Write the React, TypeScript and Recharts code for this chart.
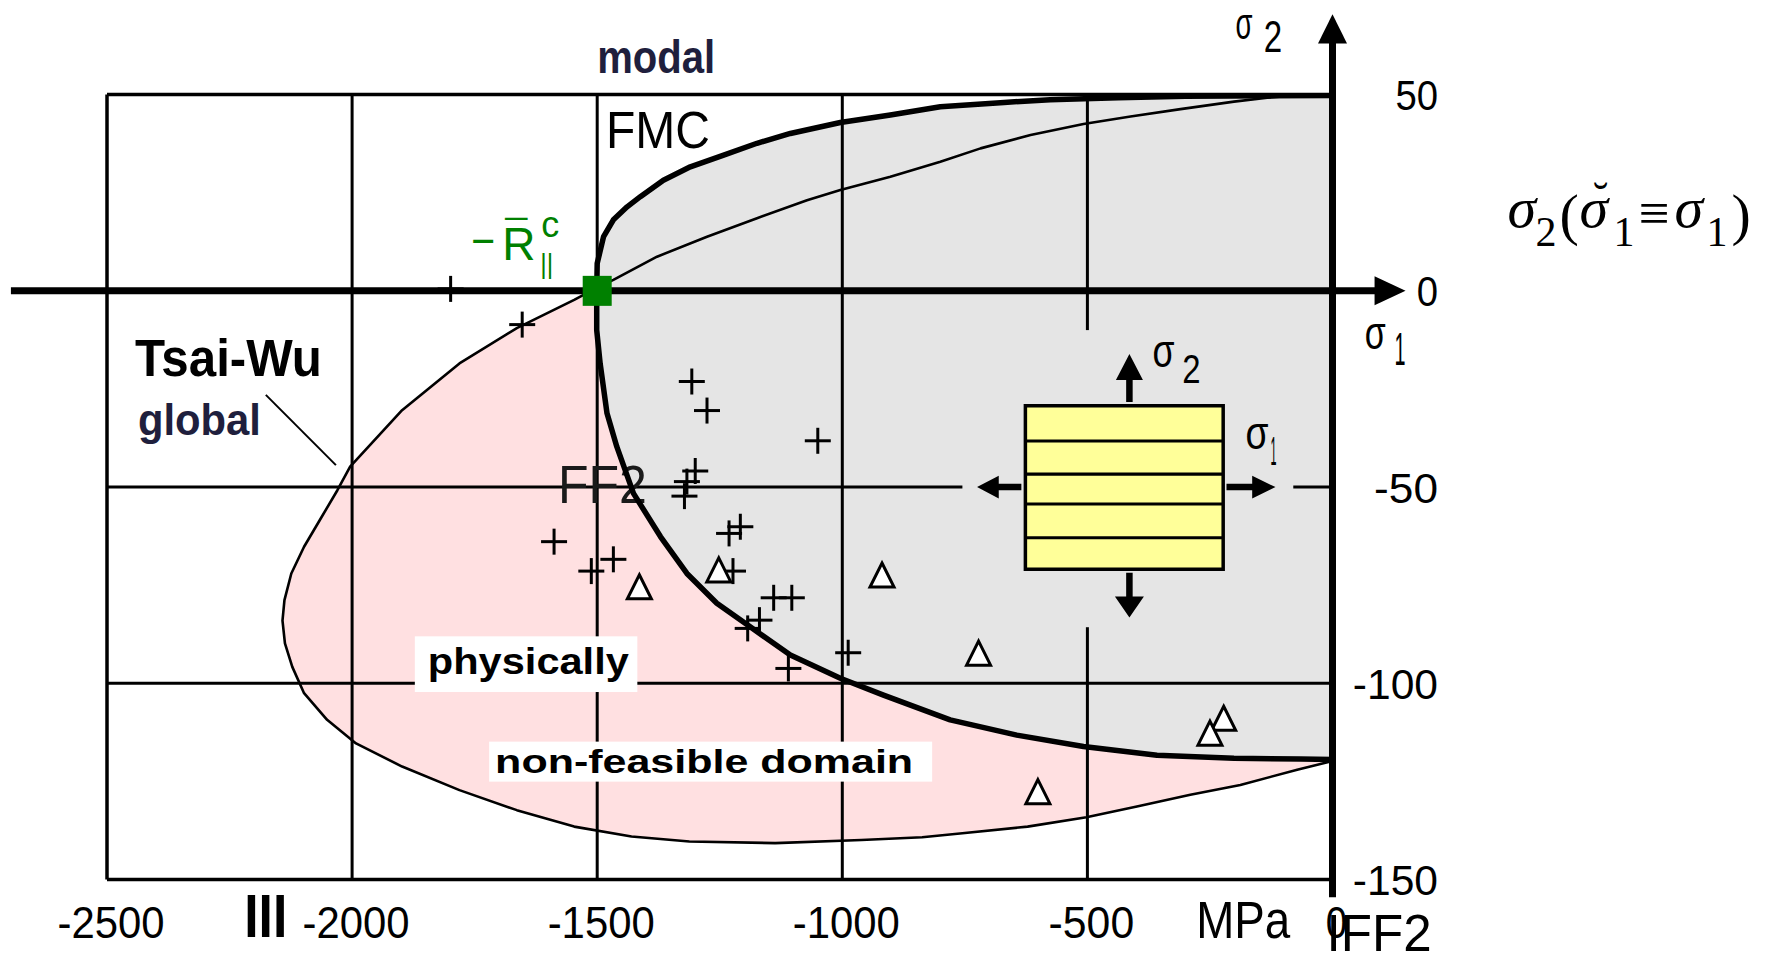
import React from "react";
import {
  ComposedChart,
  Scatter,
  XAxis,
  YAxis,
  ReferenceLine,
  ReferenceDot,
  ReferenceArea,
} from "recharts";

const SANS = "'Liberation Sans', Arial, sans-serif";
const SERIF = "'Liberation Serif', 'Times New Roman', serif";
const GREY = "#e5e5e5";
const PINK = "#ffe0e1";
const GREEN = "#008000";
const NAVY = "#1f1f3d";

type Pt = { x: number; y: number };

// axis ticks (MPa)
const xTicks = [-2500, -2000, -1500, -1000, -500, 0];
const yTicks = [-150, -100, -50, 0, 50];

// FMC failure curve, upper branch, read from right to left down to -R||c
const fmcUpper: Pt[] = [
  { x: 0, y: 49.8 }, { x: -300, y: 49.6 }, { x: -437, y: 49.2 }, { x: -576, y: 48.7 },
  { x: -670, y: 48.0 }, { x: -800, y: 46.9 }, { x: -902, y: 44.8 }, { x: -1004, y: 42.9 },
  { x: -1106, y: 40.1 }, { x: -1174, y: 37.6 }, { x: -1242, y: 34.6 }, { x: -1310, y: 31.6 },
  { x: -1365, y: 28.2 }, { x: -1412, y: 24.0 }, { x: -1439, y: 21.4 }, { x: -1467, y: 18.1 },
  { x: -1487, y: 13.8 }, { x: -1500, y: 7.0 }, { x: -1501, y: 0 },
];

// FMC failure curve, lower branch (IFF2 side), left to right
const fmcLower: Pt[] = [
  { x: -1501, y: 0 }, { x: -1501, y: -10 }, { x: -1494, y: -18.5 }, { x: -1480, y: -31.2 },
  { x: -1460, y: -39.7 }, { x: -1426, y: -51.6 }, { x: -1371, y: -62.6 }, { x: -1317, y: -72 },
  { x: -1256, y: -79.6 }, { x: -1188, y: -85.6 }, { x: -1106, y: -92.8 }, { x: -1004, y: -98.7 },
  { x: -916, y: -103 }, { x: -780, y: -109.3 }, { x: -644, y: -113.2 }, { x: -508, y: -116.1 },
  { x: -358, y: -118.3 }, { x: -201, y: -119.1 }, { x: -65, y: -119.3 }, { x: 0, y: -119.4 },
];

// Tsai-Wu global ellipse, from the top edge round to the sigma2 axis
const tsaiWu: Pt[] = [
  { x: -96, y: 49.6 }, { x: -133, y: 49.2 }, { x: -201, y: 48.2 }, { x: -310, y: 46.3 },
  { x: -412, y: 44.4 }, { x: -508, y: 42.5 }, { x: -616, y: 39.7 }, { x: -718, y: 36.3 },
  { x: -800, y: 32.9 }, { x: -902, y: 29.1 }, { x: -1004, y: 25.7 }, { x: -1072, y: 23.1 },
  { x: -1174, y: 18.5 }, { x: -1276, y: 13.8 }, { x: -1378, y: 8.7 }, { x: -1467, y: 2.8 },
  { x: -1500, y: 0.8 }, { x: -1547, y: -2.3 }, { x: -1664, y: -9.5 }, { x: -1781, y: -18.5 },
  { x: -1898, y: -30.4 }, { x: -2004, y: -44.8 }, { x: -2030, y: -50.8 }, { x: -2064, y: -58 },
  { x: -2098, y: -65.2 }, { x: -2124, y: -72 }, { x: -2138, y: -78.8 }, { x: -2142, y: -84 },
  { x: -2137, y: -89.8 }, { x: -2122, y: -95.8 }, { x: -2098, y: -102.5 }, { x: -2051, y: -109.3 },
  { x: -1992, y: -115.3 }, { x: -1898, y: -121.2 }, { x: -1781, y: -127.2 }, { x: -1664, y: -132.3 },
  { x: -1547, y: -136.5 }, { x: -1430, y: -139 }, { x: -1312, y: -140.3 }, { x: -1137, y: -140.7 },
  { x: -961, y: -139.9 }, { x: -837, y: -139.2 }, { x: -755, y: -138.2 }, { x: -622, y: -136.5 },
  { x: -502, y: -134.1 }, { x: -399, y: -131.4 }, { x: -290, y: -128.4 }, { x: -188, y: -125.9 },
  { x: -72, y: -122 }, { x: 0, y: -119.8 },
];

// compressive strength -R||c
const strength: Pt[] = [{ x: -1500, y: 0 }];

// test results
const plusTests: Pt[] = [
  { x: -1799, y: 0.5 }, { x: -1653, y: -8.6 }, { x: -1307, y: -23.1 }, { x: -1276, y: -30.5 },
  { x: -1050, y: -38.2 }, { x: -1300, y: -45.9 }, { x: -1317, y: -48.6 }, { x: -1322, y: -52.3 },
  { x: -1208, y: -60.1 }, { x: -1231, y: -61.8 }, { x: -1588, y: -63.9 }, { x: -1467, y: -68.4 },
  { x: -1512, y: -71.4 }, { x: -1223, y: -71.4 }, { x: -1140, y: -78.2 }, { x: -1103, y: -78.2 },
  { x: -1169, y: -83.9 }, { x: -1193, y: -86 }, { x: -988, y: -92.2 }, { x: -1110, y: -96.2 },
];
const triangleTests: Pt[] = [
  { x: -1414, y: -75.4 }, { x: -1252, y: -71.1 }, { x: -919, y: -72.4 }, { x: -722, y: -92.3 },
  { x: -601, y: -127.6 }, { x: -222, y: -108.9 }, { x: -250, y: -112.7 },
];

// polygons for the two shaded domains, built from the curves above
const fmcDomain: Pt[] = [...fmcUpper, ...fmcLower];
const tsaiStart = tsaiWu.findIndex((p) => p.x === -1500);
const pinkDomain: Pt[] = [...tsaiWu.slice(tsaiStart), ...[...fmcLower].reverse()];

type Note = { text: string; x: number; y: number; size: number; len?: number; bold?: boolean; color?: string };

const backNotes: Note[] = [{ text: "FF2", x: -1580, y: -54.1, size: 53, len: 89, color: "#1a1a1a" }];

const notes: Note[] = [
  { text: "modal", x: -1500, y: 55.5, size: 46, len: 118, bold: true, color: NAVY },
  { text: "FMC", x: -1482, y: 36.3, size: 51, len: 104 },
  { text: "Tsai-Wu", x: -2443, y: -21.7, size: 51, len: 187, bold: true },
  { text: "global", x: -2437, y: -36.7, size: 45, len: 123, bold: true, color: NAVY },
  { text: "III", x: -2220, y: -164.5, size: 62, len: 43, bold: true },
  { text: "MPa", x: -278, y: -164.9, size: 51, len: 94 },
  { text: "IFF2", x: -12, y: -168.2, size: 51, len: 105 },
  { text: "σ", x: -198, y: 64.2, size: 45, len: 17 },
  { text: "2", x: -140, y: 60.9, size: 44, len: 18.4 },
  { text: "σ", x: 66, y: -14.9, size: 46, len: 21 },
  { text: "1", x: 126.5, y: -18.9, size: 46, len: 11 },
  { text: "σ", x: -367, y: -19.5, size: 46, len: 22 },
  { text: "2", x: -306.7, y: -23.4, size: 40, len: 18.3 },
  { text: "σ", x: -177.6, y: -40.4, size: 46, len: 23 },
  { text: "1", x: -126.5, y: -44.4, size: 40, len: 6 },
];

type Boxed = Note & { padL: number; padR: number; padT: number; padB: number };
const boxedNotes: Boxed[] = [
  { text: "physically", x: -1845.5, y: -97.7, size: 36, len: 201, bold: true, padL: 13, padR: 8.5, padT: 38, padB: 17.7 },
  { text: "non-feasible domain", x: -1708.2, y: -122.9, size: 34, len: 418, bold: true, padL: 6, padR: 19, padT: 31.6, padB: 8.4 },
];

// laminate sketch stripes
const stripeYs = [-38.25, -46.7, -54.3, -62.9];

const noDot = () => <g />;

const PlusShape = (p: any) => (
  <g stroke="#000" strokeWidth={3}>
    <line x1={p.cx - 13} x2={p.cx + 13} y1={p.cy} y2={p.cy} />
    <line x1={p.cx} x2={p.cx} y1={p.cy - 13} y2={p.cy + 13} />
  </g>
);

const TriangleShape = (p: any) => (
  <path
    d={`M${p.cx},${p.cy - 12} L${p.cx + 12},${p.cy + 12} L${p.cx - 12},${p.cy + 12} Z`}
    fill="#fff"
    stroke="#000"
    strokeWidth={3}
    strokeLinejoin="miter"
  />
);

const SquareShape = (p: any) => (
  <rect x={p.cx - 14.5} y={p.cy - 15} width={29} height={30} fill={GREEN} />
);

const XTick = (p: any) => {
  const s = String(p.payload.value);
  return (
    <text x={p.x + 4} y={p.y + 58.4} textAnchor="middle" fontFamily={SANS} fontSize={44}
      textLength={s.length * 21.4} lengthAdjust="spacingAndGlyphs" fill="#000">
      {s}
    </text>
  );
};

const YTick = (p: any) => {
  const s = String(p.payload.value);
  return (
    <text x={p.x + 105.5} y={p.y + 15.5} textAnchor="end" fontFamily={SANS} fontSize={43}
      textLength={s.length * 21.3} lengthAdjust="spacingAndGlyphs" fill="#000">
      {s}
    </text>
  );
};

function noteDot(n: Note, key: string, z: number) {
  return (
    <ReferenceDot
      key={key}
      x={n.x}
      y={n.y}
      r={0}
      ifOverflow="visible"
      zIndex={z}
      shape={(p: any) => (
        <text x={p.cx} y={p.cy} fontFamily={SANS} fontSize={n.size} fontWeight={n.bold ? 700 : 400}
          fill={n.color ?? "#000"} textLength={n.len} lengthAdjust="spacingAndGlyphs">
          {n.text}
        </text>
      )}
    />
  );
}

function boxedDot(n: Boxed, key: string, z: number) {
  return (
    <ReferenceDot
      key={key}
      x={n.x}
      y={n.y}
      r={0}
      ifOverflow="visible"
      zIndex={z}
      shape={(p: any) => (
        <g>
          <rect x={p.cx - n.padL} y={p.cy - n.padT} width={n.padL + (n.len ?? 0) + n.padR}
            height={n.padT + n.padB} fill="#fff" />
          <text x={p.cx} y={p.cy} fontFamily={SANS} fontSize={n.size} fontWeight={700}
            fill="#000" textLength={n.len} lengthAdjust="spacingAndGlyphs">
            {n.text}
          </text>
        </g>
      )}
    />
  );
}

// arrow drawn with its tip at the dot, pointing in direction dir
function arrowShape(dir: "up" | "down" | "left" | "right", len: number, head: number, half: number, shaft: number) {
  const rot = { right: 0, down: 90, left: 180, up: 270 }[dir];
  const s = shaft / 2;
  const pts = [[0, 0], [-head, -half], [-head, -s], [-len, -s], [-len, s], [-head, s], [-head, half]];
  return (p: any) => (
    <polygon
      points={pts.map(([a, b]) => `${a},${b}`).join(" ")}
      transform={`translate(${p.cx},${p.cy}) rotate(${rot})`}
      fill="#000"
    />
  );
}

const StrengthLabel = (p: any) => {
  const { cx, cy } = p;
  return (
    <g fill={GREEN} fontFamily={SANS}>
      <text x={cx - 126} y={cy - 35} fontSize={44} textLength={24} lengthAdjust="spacingAndGlyphs">−</text>
      <text x={cx - 95} y={cy - 30.6} fontSize={46}>R</text>
      <text x={cx - 92} y={cy - 37.6} fontSize={46} textLength={22} lengthAdjust="spacingAndGlyphs">¯</text>
      <text x={cx - 56} y={cy - 54} fontSize={36}>c</text>
      <text x={cx - 57} y={cy - 18} fontSize={27} textLength={13} lengthAdjust="spacingAndGlyphs">||</text>
    </g>
  );
};

// sigma2(breve sigma1 = sigma1), pieces placed from the left edge at the baseline
const RightFormula = (p: any) => {
  const { cx, cy } = p;
  const sub = cy + 19;
  return (
    <g fontFamily={SERIF} fill="#000">
      <text x={cx} y={cy} fontSize={58} fontStyle="italic">σ</text>
      <text x={cx + 28} y={sub} fontSize={42}>2</text>
      <text x={cx + 52} y={cy + 7} fontSize={58}>(</text>
      <text x={cx + 72} y={cy} fontSize={58} fontStyle="italic">σ</text>
      <text x={cx + 93} y={cy - 12} fontSize={46} textAnchor="middle">˘</text>
      <text x={cx + 106} y={sub} fontSize={42}>1</text>
      <text x={cx + 131} y={cy + 5} fontSize={56} textLength={31} lengthAdjust="spacingAndGlyphs">≡</text>
      <text x={cx + 167} y={cy} fontSize={58} fontStyle="italic">σ</text>
      <text x={cx + 199} y={sub} fontSize={42}>1</text>
      <text x={cx + 224} y={cy + 7} fontSize={58}>)</text>
    </g>
  );
};

export default function App() {
  return (
    <div style={{ position: "absolute", left: 0, top: 0, width: 1766, height: 953, background: "#fff" }}>
      <ComposedChart width={1766} height={953} margin={{ top: 94.6, left: 107, right: 327.5, bottom: 13.4 }}>
        <XAxis type="number" dataKey="x" domain={[-2500, 0]} ticks={xTicks} interval={0} allowDataOverflow
          axisLine={false} tickLine={false} tickSize={0} tickMargin={0} height={60} tick={XTick} />
        <YAxis type="number" dataKey="y" orientation="right" domain={[-150, 50]} ticks={yTicks} interval={0}
          allowDataOverflow axisLine={false} tickLine={false} tickSize={0} tickMargin={0} width={106} tick={YTick} />

        {/* shaded domains */}
        <Scatter data={fmcDomain} shape={noDot} line={{ fill: GREY, stroke: "none" }} isAnimationActive={false} zIndex={100} />
        <Scatter data={pinkDomain} shape={noDot} line={{ fill: PINK, stroke: "none" }} isAnimationActive={false} zIndex={110} />

        {/* grid and frame */}
        {[-2000, -1500, -1000].map((v) => (
          <ReferenceLine key={`gx${v}`} x={v} stroke="#000" strokeWidth={3} zIndex={200} />
        ))}
        <ReferenceLine segment={[{ x: -500, y: 50 }, { x: -500, y: -10 }]} stroke="#000" strokeWidth={3} zIndex={200} />
        <ReferenceLine segment={[{ x: -500, y: -85.7 }, { x: -500, y: -150 }]} stroke="#000" strokeWidth={3} zIndex={200} />
        <ReferenceLine segment={[{ x: -2500, y: -50 }, { x: -755, y: -50 }]} stroke="#000" strokeWidth={3} zIndex={200} />
        <ReferenceLine segment={[{ x: -80, y: -50 }, { x: 0, y: -50 }]} stroke="#000" strokeWidth={3} zIndex={200} />
        <ReferenceLine y={-100} stroke="#000" strokeWidth={3} zIndex={200} />
        <ReferenceLine x={-2500} stroke="#000" strokeWidth={3.5} zIndex={200} />
        <ReferenceLine y={50} stroke="#000" strokeWidth={3.5} zIndex={200} />
        <ReferenceLine y={-150} stroke="#000" strokeWidth={3.5} zIndex={200} />

        {backNotes.map((n, i) => noteDot(n, `bn${i}`, 250))}

        {/* failure curves */}
        <Scatter data={tsaiWu} shape={noDot} line={{ stroke: "#000", strokeWidth: 2.6, fill: "none", strokeLinejoin: "round" }} isAnimationActive={false} zIndex={300} />
        <Scatter data={fmcDomain} shape={noDot} line={{ stroke: "#000", strokeWidth: 5.5, fill: "none", strokeLinejoin: "round" }} isAnimationActive={false} zIndex={310} />

        {boxedNotes.map((n, i) => boxedDot(n, `bx${i}`, 350))}

        {/* laminate sketch */}
        <ReferenceArea x1={-626.5} x2={-223} y1={-70.9} y2={-29.3} fill="#ffff99" fillOpacity={1} stroke="#000" strokeWidth={3.5} zIndex={360} />
        {stripeYs.map((v) => (
          <ReferenceLine key={`st${v}`} segment={[{ x: -626.5, y: v }, { x: -223, y: v }]} stroke="#000" strokeWidth={3.2} zIndex={370} />
        ))}
        <ReferenceDot x={-414.3} y={-16.1} r={0} zIndex={370} shape={arrowShape("up", 48, 26, 13.5, 6.5)} />
        <ReferenceDot x={-414.3} y={-83.2} r={0} zIndex={370} shape={arrowShape("down", 44.6, 21, 14.5, 6.5)} />
        <ReferenceDot x={-725.1} y={-50} r={0} zIndex={370} shape={arrowShape("left", 44.3, 21.7, 11.3, 6.5)} />
        <ReferenceDot x={-116.3} y={-50} r={0} zIndex={370} shape={arrowShape("right", 49, 23.3, 11.3, 6.5)} />

        {/* leader from "global" to the ellipse */}
        <ReferenceLine segment={[{ x: -2176, y: -26.5 }, { x: -2033, y: -44.4 }]} stroke="#000" strokeWidth={2} zIndex={380} />

        {/* stress axes */}
        <ReferenceLine segment={[{ x: -2696, y: 0 }, { x: 90, y: 0 }]} ifOverflow="visible" stroke="#000" strokeWidth={7} zIndex={390} />
        <ReferenceLine segment={[{ x: 0, y: -154.5 }, { x: 0, y: 64 }]} ifOverflow="visible" stroke="#000" strokeWidth={7} zIndex={390} />
        <ReferenceDot x={149} y={0} r={0} ifOverflow="visible" zIndex={390} shape={arrowShape("right", 31, 31, 14.5, 0)} />
        <ReferenceDot x={0} y={70.5} r={0} ifOverflow="visible" zIndex={390} shape={arrowShape("up", 29.3, 29.3, 14.5, 0)} />

        {/* test data */}
        <Scatter data={plusTests} shape={PlusShape} isAnimationActive={false} zIndex={400} />
        <Scatter data={triangleTests} shape={TriangleShape} isAnimationActive={false} zIndex={410} />
        <Scatter data={strength} shape={SquareShape} isAnimationActive={false} zIndex={420} />
        <ReferenceDot x={-1500} y={0} r={0} zIndex={430} shape={StrengthLabel} />

        {notes.map((n, i) => noteDot(n, `n${i}`, 500))}
        <ReferenceDot x={357.1} y={16.3} r={0} ifOverflow="visible" zIndex={500} shape={RightFormula} />
      </ComposedChart>
    </div>
  );
}
